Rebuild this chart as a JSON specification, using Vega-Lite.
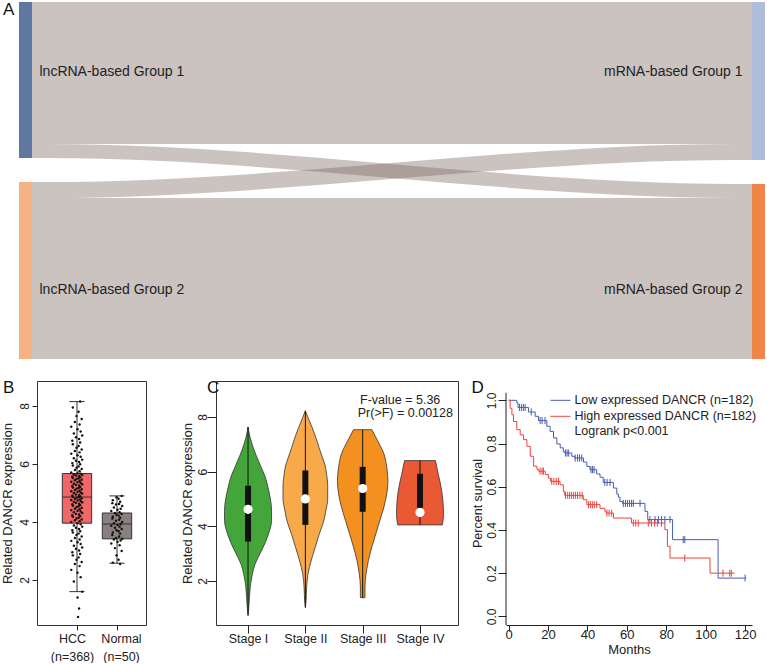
{
"$schema":"https://vega.github.io/schema/vega-lite/v6.json",
"padding":0,
"background":"white",
"config":{"font":"Liberation Sans","view":{"stroke":null},
"axis":{"grid":false,"labelColor":"#222","titleColor":"#222","tickColor":"#222","domainColor":"#222","titleFontWeight":"normal","labelFont":"Liberation Sans","titleFont":"Liberation Sans","tickWidth":1,"domainWidth":1},
"text":{"font":"Liberation Sans"}},
"datasets":{
"flows":[
{"flow":"11","stage":0,"top":0,"bot":142},{"flow":"11","stage":1,"top":0,"bot":142},
{"flow":"22","stage":0,"top":196,"bot":357},{"flow":"22","stage":1,"top":196,"bot":357},
{"flow":"12","stage":0,"top":142,"bot":156},{"flow":"12","stage":0.03,"top":142,"bot":156},{"flow":"12","stage":0.97,"top":182,"bot":196},{"flow":"12","stage":1,"top":182,"bot":196},
{"flow":"21","stage":0,"top":180,"bot":196},{"flow":"21","stage":0.03,"top":180,"bot":196},{"flow":"21","stage":0.97,"top":142,"bot":158},{"flow":"21","stage":1,"top":142,"bot":158}],
"nodes":[
{"node":"L1","stage":0,"top":0,"bot":156},{"node":"L2","stage":0,"top":180,"bot":357},
{"node":"R1","stage":1,"top":0,"bot":158},{"node":"R2","stage":1,"top":182,"bot":357}],
"nodelabels":[
{"label":"lncRNA-based Group 1","stage":0,"top":70},{"label":"lncRNA-based Group 2","stage":0,"top":288},
{"label":"mRNA-based Group 1","stage":1,"top":70},{"label":"mRNA-based Group 2","stage":1,"top":288}],
"bstats":[
{"g":"HCC","lo":1.6,"q1":3.96,"med":4.86,"q3":5.67,"hi":8.15},
{"g":"Normal","lo":2.58,"q1":3.42,"med":3.93,"q3":4.31,"hi":4.9}],
"bpts":[
{"g":"HCC","v":0.73,"j":0.2},{"g":"HCC","v":1.02,"j":0.4},{"g":"HCC","v":1.4,"j":0.1},{"g":"HCC","v":1.6,"j":1.0},{"g":"HCC","v":1.95,"j":-0.6},{"g":"HCC","v":2.1,"j":0.7},{"g":"HCC","v":2.25,"j":0.1},{"g":"HCC","v":2.35,"j":-1.1},{"g":"HCC","v":2.48,"j":0.5},{"g":"HCC","v":2.55,"j":-0.4},
{"g":"HCC","v":2.62,"j":0.9},{"g":"HCC","v":2.7,"j":-0.1},{"g":"HCC","v":2.78,"j":0.3},{"g":"HCC","v":2.85,"j":-0.8},{"g":"HCC","v":2.9,"j":0.6},{"g":"HCC","v":2.96,"j":-0.9},{"g":"HCC","v":3.02,"j":0.4},{"g":"HCC","v":3.08,"j":-0.2},{"g":"HCC","v":3.12,"j":1.0},{"g":"HCC","v":3.18,"j":-0.6},
{"g":"HCC","v":3.24,"j":0.7},{"g":"HCC","v":3.3,"j":0.1},{"g":"HCC","v":3.35,"j":-1.1},{"g":"HCC","v":3.4,"j":0.5},{"g":"HCC","v":3.45,"j":-0.4},{"g":"HCC","v":3.5,"j":0.9},{"g":"HCC","v":3.55,"j":-0.1},{"g":"HCC","v":3.6,"j":0.3},{"g":"HCC","v":3.64,"j":-0.8},{"g":"HCC","v":3.68,"j":0.6},
{"g":"HCC","v":3.72,"j":-0.9},{"g":"HCC","v":3.76,"j":0.4},{"g":"HCC","v":3.8,"j":-0.2},{"g":"HCC","v":3.84,"j":1.0},{"g":"HCC","v":3.88,"j":-0.6},{"g":"HCC","v":3.92,"j":0.7},{"g":"HCC","v":3.96,"j":0.1},
{"g":"HCC","v":4.0,"j":-1.1},{"g":"HCC","v":4.03,"j":0.5},{"g":"HCC","v":4.06,"j":-0.4},{"g":"HCC","v":4.09,"j":0.9},{"g":"HCC","v":4.12,"j":-0.1},{"g":"HCC","v":4.15,"j":0.3},{"g":"HCC","v":4.18,"j":-0.8},{"g":"HCC","v":4.2,"j":0.6},{"g":"HCC","v":4.23,"j":-0.9},{"g":"HCC","v":4.26,"j":0.4},
{"g":"HCC","v":4.28,"j":-0.2},{"g":"HCC","v":4.31,"j":1.0},{"g":"HCC","v":4.34,"j":-0.6},{"g":"HCC","v":4.36,"j":0.7},{"g":"HCC","v":4.39,"j":0.1},{"g":"HCC","v":4.41,"j":-1.1},{"g":"HCC","v":4.44,"j":0.5},{"g":"HCC","v":4.46,"j":-0.4},{"g":"HCC","v":4.49,"j":0.9},{"g":"HCC","v":4.51,"j":-0.1},
{"g":"HCC","v":4.54,"j":0.3},{"g":"HCC","v":4.56,"j":-0.8},{"g":"HCC","v":4.59,"j":0.6},{"g":"HCC","v":4.61,"j":-0.9},{"g":"HCC","v":4.63,"j":0.4},{"g":"HCC","v":4.66,"j":-0.2},{"g":"HCC","v":4.68,"j":1.0},{"g":"HCC","v":4.7,"j":-0.6},{"g":"HCC","v":4.72,"j":0.7},{"g":"HCC","v":4.74,"j":0.1},
{"g":"HCC","v":4.76,"j":-1.1},{"g":"HCC","v":4.78,"j":0.5},{"g":"HCC","v":4.8,"j":-0.4},{"g":"HCC","v":4.82,"j":0.9},{"g":"HCC","v":4.84,"j":-0.1},{"g":"HCC","v":4.86,"j":0.3},{"g":"HCC","v":4.87,"j":-0.8},{"g":"HCC","v":4.89,"j":0.6},
{"g":"HCC","v":4.91,"j":-0.9},{"g":"HCC","v":4.93,"j":0.4},{"g":"HCC","v":4.95,"j":-0.2},{"g":"HCC","v":4.98,"j":1.0},{"g":"HCC","v":5.0,"j":-0.6},{"g":"HCC","v":5.02,"j":0.7},{"g":"HCC","v":5.04,"j":0.1},{"g":"HCC","v":5.06,"j":-1.1},{"g":"HCC","v":5.08,"j":0.5},{"g":"HCC","v":5.1,"j":-0.4},
{"g":"HCC","v":5.13,"j":0.9},{"g":"HCC","v":5.15,"j":-0.1},{"g":"HCC","v":5.17,"j":0.3},{"g":"HCC","v":5.19,"j":-0.8},{"g":"HCC","v":5.21,"j":0.6},{"g":"HCC","v":5.24,"j":-0.9},{"g":"HCC","v":5.26,"j":0.4},{"g":"HCC","v":5.28,"j":-0.2},{"g":"HCC","v":5.3,"j":1.0},{"g":"HCC","v":5.32,"j":-0.6},
{"g":"HCC","v":5.35,"j":0.7},{"g":"HCC","v":5.37,"j":0.1},{"g":"HCC","v":5.39,"j":-1.1},{"g":"HCC","v":5.41,"j":0.5},{"g":"HCC","v":5.44,"j":-0.4},{"g":"HCC","v":5.46,"j":0.9},{"g":"HCC","v":5.48,"j":-0.1},{"g":"HCC","v":5.5,"j":0.3},{"g":"HCC","v":5.52,"j":-0.8},{"g":"HCC","v":5.54,"j":0.6},
{"g":"HCC","v":5.56,"j":-0.9},{"g":"HCC","v":5.58,"j":0.4},{"g":"HCC","v":5.6,"j":-0.2},{"g":"HCC","v":5.62,"j":1.0},{"g":"HCC","v":5.64,"j":-0.6},{"g":"HCC","v":5.66,"j":0.7},{"g":"HCC","v":5.68,"j":0.1},
{"g":"HCC","v":5.71,"j":-1.1},{"g":"HCC","v":5.75,"j":0.5},{"g":"HCC","v":5.79,"j":-0.4},{"g":"HCC","v":5.83,"j":0.9},{"g":"HCC","v":5.87,"j":-0.1},{"g":"HCC","v":5.91,"j":0.3},{"g":"HCC","v":5.95,"j":-0.8},{"g":"HCC","v":5.99,"j":0.6},{"g":"HCC","v":6.03,"j":-0.9},{"g":"HCC","v":6.07,"j":0.4},
{"g":"HCC","v":6.11,"j":-0.2},{"g":"HCC","v":6.15,"j":1.0},{"g":"HCC","v":6.2,"j":-0.6},{"g":"HCC","v":6.25,"j":0.7},{"g":"HCC","v":6.3,"j":0.1},{"g":"HCC","v":6.35,"j":-1.1},{"g":"HCC","v":6.4,"j":0.5},{"g":"HCC","v":6.45,"j":-0.4},{"g":"HCC","v":6.5,"j":0.9},{"g":"HCC","v":6.56,"j":-0.1},
{"g":"HCC","v":6.62,"j":0.3},{"g":"HCC","v":6.68,"j":-0.8},{"g":"HCC","v":6.74,"j":0.6},{"g":"HCC","v":6.8,"j":-0.9},{"g":"HCC","v":6.86,"j":0.4},{"g":"HCC","v":6.92,"j":-0.2},{"g":"HCC","v":6.98,"j":1.0},{"g":"HCC","v":7.05,"j":-0.6},{"g":"HCC","v":7.12,"j":0.7},{"g":"HCC","v":7.2,"j":0.1},
{"g":"HCC","v":7.28,"j":-1.1},{"g":"HCC","v":7.36,"j":0.5},{"g":"HCC","v":7.45,"j":-0.4},{"g":"HCC","v":7.55,"j":0.9},{"g":"HCC","v":7.65,"j":-0.1},{"g":"HCC","v":7.8,"j":0.3},{"g":"HCC","v":7.95,"j":-0.8},{"g":"HCC","v":8.15,"j":0.6},
{"g":"Normal","v":2.55,"j":0.6},{"g":"Normal","v":2.6,"j":-0.8},{"g":"Normal","v":2.7,"j":0.3},{"g":"Normal","v":2.85,"j":-0.1},{"g":"Normal","v":3.0,"j":0.9},{"g":"Normal","v":3.1,"j":-0.4},{"g":"Normal","v":3.2,"j":0.5},{"g":"Normal","v":3.26,"j":-1.1},{"g":"Normal","v":3.32,"j":0.1},{"g":"Normal","v":3.36,"j":0.7},
{"g":"Normal","v":3.4,"j":-0.6},{"g":"Normal","v":3.42,"j":1.0},{"g":"Normal","v":3.45,"j":-0.2},{"g":"Normal","v":3.5,"j":0.4},{"g":"Normal","v":3.55,"j":-0.9},{"g":"Normal","v":3.6,"j":0.6},{"g":"Normal","v":3.64,"j":-0.8},{"g":"Normal","v":3.68,"j":0.3},{"g":"Normal","v":3.72,"j":-0.1},{"g":"Normal","v":3.76,"j":0.9},
{"g":"Normal","v":3.8,"j":-0.4},{"g":"Normal","v":3.84,"j":0.5},{"g":"Normal","v":3.87,"j":-1.1},{"g":"Normal","v":3.9,"j":0.1},{"g":"Normal","v":3.93,"j":0.7},{"g":"Normal","v":3.96,"j":-0.6},{"g":"Normal","v":4.0,"j":1.0},{"g":"Normal","v":4.04,"j":-0.2},{"g":"Normal","v":4.08,"j":0.4},{"g":"Normal","v":4.12,"j":-0.9},
{"g":"Normal","v":4.15,"j":0.6},{"g":"Normal","v":4.18,"j":-0.8},{"g":"Normal","v":4.22,"j":0.3},{"g":"Normal","v":4.25,"j":-0.1},{"g":"Normal","v":4.28,"j":0.9},{"g":"Normal","v":4.31,"j":-0.4},{"g":"Normal","v":4.34,"j":0.5},{"g":"Normal","v":4.38,"j":-1.1},{"g":"Normal","v":4.42,"j":0.1},{"g":"Normal","v":4.46,"j":0.7},
{"g":"Normal","v":4.5,"j":-0.6},{"g":"Normal","v":4.55,"j":1.0},{"g":"Normal","v":4.6,"j":-0.2},{"g":"Normal","v":4.62,"j":0.4},{"g":"Normal","v":4.65,"j":-0.9},{"g":"Normal","v":4.7,"j":0.6},{"g":"Normal","v":4.75,"j":-0.8},{"g":"Normal","v":4.8,"j":0.3},{"g":"Normal","v":4.85,"j":-0.1},{"g":"Normal","v":4.9,"j":0.9}],
"violin":[
{"st":"I","s":1,"v":7.63,"w":0},{"st":"I","s":1,"v":7.3,"w":0.03},{"st":"I","s":1,"v":7.0,"w":0.07},{"st":"I","s":1,"v":6.6,"w":0.14},{"st":"I","s":1,"v":6.2,"w":0.22},{"st":"I","s":1,"v":5.8,"w":0.3},{"st":"I","s":1,"v":5.4,"w":0.35},{"st":"I","s":1,"v":5.0,"w":0.39},{"st":"I","s":1,"v":4.6,"w":0.41},{"st":"I","s":1,"v":4.2,"w":0.41},{"st":"I","s":1,"v":3.8,"w":0.37},{"st":"I","s":1,"v":3.4,"w":0.3},{"st":"I","s":1,"v":3.0,"w":0.21},{"st":"I","s":1,"v":2.6,"w":0.12},{"st":"I","s":1,"v":2.2,"w":0.07},{"st":"I","s":1,"v":1.8,"w":0.04},{"st":"I","s":1,"v":1.4,"w":0.025},{"st":"I","s":1,"v":1.0,"w":0.012},{"st":"I","s":1,"v":0.74,"w":0},
{"st":"II","s":2,"v":8.22,"w":0},{"st":"II","s":2,"v":7.9,"w":0.06},{"st":"II","s":2,"v":7.6,"w":0.12},{"st":"II","s":2,"v":7.2,"w":0.19},{"st":"II","s":2,"v":6.87,"w":0.24},{"st":"II","s":2,"v":6.5,"w":0.3},{"st":"II","s":2,"v":6.26,"w":0.34},{"st":"II","s":2,"v":5.9,"w":0.37},{"st":"II","s":2,"v":5.5,"w":0.39},{"st":"II","s":2,"v":5.0,"w":0.39},{"st":"II","s":2,"v":4.6,"w":0.36},{"st":"II","s":2,"v":4.19,"w":0.32},{"st":"II","s":2,"v":3.7,"w":0.24},{"st":"II","s":2,"v":3.22,"w":0.17},{"st":"II","s":2,"v":2.73,"w":0.1},{"st":"II","s":2,"v":2.25,"w":0.045},{"st":"II","s":2,"v":1.76,"w":0.022},{"st":"II","s":2,"v":1.27,"w":0.012},{"st":"II","s":2,"v":1.03,"w":0},
{"st":"III","s":3,"v":7.53,"w":0.16},{"st":"III","s":3,"v":7.13,"w":0.26},{"st":"III","s":3,"v":6.65,"w":0.37},{"st":"III","s":3,"v":6.16,"w":0.42},{"st":"III","s":3,"v":5.67,"w":0.44},{"st":"III","s":3,"v":5.18,"w":0.42},{"st":"III","s":3,"v":4.7,"w":0.37},{"st":"III","s":3,"v":4.21,"w":0.3},{"st":"III","s":3,"v":3.73,"w":0.23},{"st":"III","s":3,"v":3.24,"w":0.16},{"st":"III","s":3,"v":2.75,"w":0.1},{"st":"III","s":3,"v":2.27,"w":0.06},{"st":"III","s":3,"v":1.78,"w":0.04},{"st":"III","s":3,"v":1.39,"w":0.04},
{"st":"IV","s":4,"v":6.4,"w":0.27},{"st":"IV","s":4,"v":5.89,"w":0.32},{"st":"IV","s":4,"v":5.41,"w":0.37},{"st":"IV","s":4,"v":4.92,"w":0.4},{"st":"IV","s":4,"v":4.43,"w":0.41},{"st":"IV","s":4,"v":4.05,"w":0.39}],
"vstats":[
{"s":1,"mn":0.74,"q1":3.44,"med":4.62,"q3":5.48,"mx":7.63},
{"s":2,"mn":1.03,"q1":4.05,"med":5.0,"q3":6.04,"mx":8.22},
{"s":3,"mn":1.39,"q1":4.53,"med":5.38,"q3":6.17,"mx":7.53},
{"s":4,"mn":4.05,"q1":4.68,"med":4.5,"q3":5.92,"mx":6.4}],
"km":[
{"g":"Low","t":0,"s":1.0},{"g":"Low","t":4.2,"s":0.988},{"g":"Low","t":4.8,"s":0.967},{"g":"Low","t":10.1,"s":0.946},{"g":"Low","t":13.5,"s":0.926},{"g":"Low","t":15.2,"s":0.906},{"g":"Low","t":19.4,"s":0.88},{"g":"Low","t":21.1,"s":0.856},{"g":"Low","t":22.8,"s":0.826},{"g":"Low","t":24.5,"s":0.798},{"g":"Low","t":26.2,"s":0.78},{"g":"Low","t":27.8,"s":0.761},{"g":"Low","t":28.5,"s":0.756},{"g":"Low","t":32.1,"s":0.741},{"g":"Low","t":33.5,"s":0.733},{"g":"Low","t":38,"s":0.714},{"g":"Low","t":39.7,"s":0.694},{"g":"Low","t":41.3,"s":0.679},{"g":"Low","t":44.7,"s":0.659},{"g":"Low","t":46.4,"s":0.644},{"g":"Low","t":48,"s":0.62},{"g":"Low","t":53.2,"s":0.594},{"g":"Low","t":54.9,"s":0.566},{"g":"Low","t":55.7,"s":0.552},{"g":"Low","t":56.5,"s":0.532},{"g":"Low","t":57.8,"s":0.523},{"g":"Low","t":69.2,"s":0.486},{"g":"Low","t":70.6,"s":0.448},{"g":"Low","t":83.2,"s":0.355},{"g":"Low","t":106.3,"s":0.177},{"g":"Low","t":120.6,"s":0.177},
{"g":"High","t":0,"s":1.0},{"g":"High","t":0.8,"s":0.963},{"g":"High","t":1.7,"s":0.933},{"g":"High","t":2.5,"s":0.902},{"g":"High","t":4.2,"s":0.864},{"g":"High","t":5.9,"s":0.84},{"g":"High","t":7.6,"s":0.818},{"g":"High","t":9.3,"s":0.787},{"g":"High","t":11,"s":0.741},{"g":"High","t":12.7,"s":0.695},{"g":"High","t":14.4,"s":0.68},{"g":"High","t":15.3,"s":0.672},{"g":"High","t":18.6,"s":0.656},{"g":"High","t":20.2,"s":0.64},{"g":"High","t":21.2,"s":0.625},{"g":"High","t":26.1,"s":0.609},{"g":"High","t":27.8,"s":0.578},{"g":"High","t":28.5,"s":0.56},{"g":"High","t":37.9,"s":0.54},{"g":"High","t":39.7,"s":0.517},{"g":"High","t":46.4,"s":0.5},{"g":"High","t":48.9,"s":0.486},{"g":"High","t":49.5,"s":0.478},{"g":"High","t":53.2,"s":0.455},{"g":"High","t":62.4,"s":0.432},{"g":"High","t":79.3,"s":0.401},{"g":"High","t":80.6,"s":0.324},{"g":"High","t":81.9,"s":0.27},{"g":"High","t":102.2,"s":0.2},{"g":"High","t":114.7,"s":0.2}],
"cens":[
{"g":"Low","t":5.5,"s":0.967},{"g":"Low","t":6.5,"s":0.967},{"g":"Low","t":7.5,"s":0.967},{"g":"Low","t":8.4,"s":0.967},{"g":"Low","t":11.5,"s":0.946},{"g":"Low","t":16,"s":0.906},{"g":"Low","t":17,"s":0.906},{"g":"Low","t":18.5,"s":0.906},{"g":"Low","t":28.9,"s":0.756},{"g":"Low","t":29.7,"s":0.756},{"g":"Low","t":30.5,"s":0.756},{"g":"Low","t":33.8,"s":0.733},{"g":"Low","t":35,"s":0.733},{"g":"Low","t":36,"s":0.733},{"g":"Low","t":37.1,"s":0.733},{"g":"Low","t":41.8,"s":0.679},{"g":"Low","t":42.6,"s":0.679},{"g":"Low","t":43.4,"s":0.679},{"g":"Low","t":48.8,"s":0.62},{"g":"Low","t":50,"s":0.62},{"g":"Low","t":51.5,"s":0.62},{"g":"Low","t":58.2,"s":0.523},{"g":"Low","t":59.3,"s":0.523},{"g":"Low","t":60.3,"s":0.523},{"g":"Low","t":61.4,"s":0.523},{"g":"Low","t":62.4,"s":0.523},{"g":"Low","t":63.3,"s":0.523},{"g":"Low","t":66.7,"s":0.523},{"g":"Low","t":71.7,"s":0.448},{"g":"Low","t":74.3,"s":0.448},{"g":"Low","t":76,"s":0.448},{"g":"Low","t":77.6,"s":0.448},{"g":"Low","t":79.3,"s":0.448},{"g":"Low","t":81.9,"s":0.448},{"g":"Low","t":88.6,"s":0.355},{"g":"Low","t":89.4,"s":0.355},{"g":"Low","t":120,"s":0.177},
{"g":"High","t":16,"s":0.672},{"g":"High","t":17,"s":0.672},{"g":"High","t":17.7,"s":0.672},{"g":"High","t":21.9,"s":0.625},{"g":"High","t":23,"s":0.625},{"g":"High","t":24.2,"s":0.625},{"g":"High","t":25.3,"s":0.625},{"g":"High","t":28.9,"s":0.56},{"g":"High","t":30,"s":0.56},{"g":"High","t":31,"s":0.56},{"g":"High","t":32,"s":0.56},{"g":"High","t":33,"s":0.56},{"g":"High","t":34,"s":0.56},{"g":"High","t":35,"s":0.56},{"g":"High","t":36.2,"s":0.56},{"g":"High","t":37.3,"s":0.56},{"g":"High","t":40.5,"s":0.517},{"g":"High","t":41.5,"s":0.517},{"g":"High","t":42.5,"s":0.517},{"g":"High","t":43.5,"s":0.517},{"g":"High","t":44.7,"s":0.517},{"g":"High","t":49.9,"s":0.478},{"g":"High","t":51,"s":0.478},{"g":"High","t":52.3,"s":0.478},{"g":"High","t":63.3,"s":0.432},{"g":"High","t":64.5,"s":0.432},{"g":"High","t":65.8,"s":0.432},{"g":"High","t":70.9,"s":0.432},{"g":"High","t":72.5,"s":0.432},{"g":"High","t":74,"s":0.432},{"g":"High","t":75.5,"s":0.432},{"g":"High","t":77.6,"s":0.432},{"g":"High","t":89.4,"s":0.27},{"g":"High","t":108.8,"s":0.2},{"g":"High","t":112.2,"s":0.2},{"g":"High","t":113,"s":0.2}]
},
"spacing":18,
"align":"none",
"resolve":{"scale":{"color":"independent","fill":"independent"}},
"vconcat":[
{"width":730,"height":360,
"layer":[
{"data":{"name":"flows"},"mark":{"type":"area","interpolate":"monotone","color":"#7d6a62","opacity":0.4},
"encoding":{"x":{"field":"stage","type":"quantitative","scale":{"domain":[0.01569,1.0116],"nice":false,"zero":false,"padding":0},"axis":null},
"y":{"field":"top","type":"quantitative","scale":{"domain":[-2,358],"reverse":true,"nice":false,"zero":false,"padding":0},"axis":null},
"y2":{"field":"bot"},"detail":{"field":"flow","type":"nominal"}}},
{"data":{"name":"nodes"},"mark":{"type":"bar","size":13},
"encoding":{"x":{"field":"stage","type":"quantitative"},"y":{"field":"top","type":"quantitative"},"y2":{"field":"bot"},
"color":{"field":"node","type":"nominal","scale":{"domain":["L1","L2","R1","R2"],"range":["#5E78A2","#F7B283","#AEBDDB","#F08548"]},"legend":null}}},
{"data":{"name":"nodelabels"},"transform":[{"filter":"datum.stage == 0"}],"mark":{"type":"text","align":"left","baseline":"middle","dx":14,"fontSize":14,"color":"#222"},
"encoding":{"x":{"field":"stage","type":"quantitative"},"y":{"field":"top","type":"quantitative"},"text":{"field":"label"}}},
{"data":{"name":"nodelabels"},"transform":[{"filter":"datum.stage == 1"}],"mark":{"type":"text","align":"right","baseline":"middle","dx":-16,"fontSize":14,"color":"#222"},
"encoding":{"x":{"field":"stage","type":"quantitative"},"y":{"field":"top","type":"quantitative"},"text":{"field":"label"}}},
{"data":{"values":[{"lab":"A"}]},"mark":{"type":"text","align":"left","baseline":"alphabetic","fontSize":17,"color":"#111"},"encoding":{"x":{"datum":-0.0307},"y":{"datum":13},"text":{"field":"lab"}}}
]},
{"spacing":12,"align":"none","resolve":{"scale":{"color":"independent","fill":"independent"}},"hconcat":[
{"spacing":33,"align":"none","resolve":{"scale":{"color":"independent","fill":"independent"}},"hconcat":[
{"width":109,"height":244,
"view":{"stroke":"#333","strokeWidth":1},
"layer":[
{"data":{"name":"bstats"},"transform":[{"calculate":"datum.g == 'HCC' ? 1 : 2","as":"pos"}],"mark":{"type":"rule","color":"#333"},
"encoding":{"x":{"field":"pos","type":"quantitative","scale":{"domain":[0,2.725],"nice":false,"zero":false,"padding":0},
"axis":{"values":[1,2],"title":null,"labelExpr":"datum.value == 1 ? ['HCC', '(n=368)'] : ['Normal', '(n=50)']","labelOffset":{"condition":{"test":"datum.value == 1","value":-5},"value":4},"tickSize":5,"labelPadding":2,"labelFontSize":12.5,"domain":false,"labelLineHeight":18,"labelFlush":false}},
"y":{"field":"lo","type":"quantitative","scale":{"domain":[0.45,8.86],"nice":false,"zero":false},
"axis":{"values":[2,4,6,8],"labelAngle":-90,"labelAlign":"center","labelBaseline":"bottom","tickSize":5,"labelPadding":1,"labelFontSize":12,"domain":false,"title":"Related DANCR expression","titleFontSize":13,"titlePadding":4}},"y2":{"field":"hi"}}},
{"data":{"name":"bstats"},"transform":[{"calculate":"datum.g == 'HCC' ? 1 : 2","as":"pos"},{"calculate":"datum.pos - 0.367","as":"xa"},{"calculate":"datum.pos + 0.367","as":"xb"}],
"mark":{"type":"rect","stroke":"#333","strokeWidth":1},"encoding":{"x":{"field":"xa","type":"quantitative"},"x2":{"field":"xb"},"y":{"field":"q1","type":"quantitative"},"y2":{"field":"q3"},"fill":{"field":"g","type":"nominal","scale":{"domain":["HCC","Normal"],"range":["#EF6767","#8B8080"]},"legend":null}}},
{"data":{"name":"bstats"},"transform":[{"calculate":"datum.g == 'HCC' ? 1 : 2","as":"pos"},{"calculate":"datum.pos - 0.367","as":"xa"},{"calculate":"datum.pos + 0.367","as":"xb"}],
"mark":{"type":"rule","color":"#333","strokeWidth":1},"encoding":{"x":{"field":"xa","type":"quantitative"},"x2":{"field":"xb"},"y":{"field":"med","type":"quantitative"}}},
{"data":{"name":"bstats"},"transform":[{"calculate":"datum.g == 'HCC' ? 1 : 2","as":"pos"},{"calculate":"datum.pos - 0.19","as":"xa"},{"calculate":"datum.pos + 0.19","as":"xb"}],
"mark":{"type":"rule","color":"#333","strokeWidth":1},"encoding":{"x":{"field":"xa","type":"quantitative"},"x2":{"field":"xb"},"y":{"field":"lo","type":"quantitative"}}},
{"data":{"name":"bstats"},"transform":[{"calculate":"datum.g == 'HCC' ? 1 : 2","as":"pos"},{"calculate":"datum.pos - 0.19","as":"xa"},{"calculate":"datum.pos + 0.19","as":"xb"}],
"mark":{"type":"rule","color":"#333","strokeWidth":1},"encoding":{"x":{"field":"xa","type":"quantitative"},"x2":{"field":"xb"},"y":{"field":"hi","type":"quantitative"}}},
{"data":{"name":"bpts"},"transform":[{"calculate":"(datum.g == 'HCC' ? 1 : 2) + datum.j * 0.13","as":"px"}],
"mark":{"type":"point","filled":true,"size":6,"color":"#111","opacity":1},"encoding":{"x":{"field":"px","type":"quantitative"},"y":{"field":"v","type":"quantitative"}}},
{"data":{"values":[{"lab":"B"}]},"mark":{"type":"text","align":"left","baseline":"alphabetic","fontSize":17,"color":"#111"},"encoding":{"x":{"datum":-0.85},"y":{"datum":8.45},"text":{"field":"lab"}}}
]},
{"width":242,"height":244,
"view":{"stroke":"#333","strokeWidth":1},
"layer":[
{"data":{"name":"violin"},"transform":[{"calculate":"datum.s - datum.w","as":"lo"},{"calculate":"datum.s + datum.w","as":"hi"}],
"mark":{"type":"area","orient":"horizontal","interpolate":"monotone","stroke":"#333","strokeWidth":0.8,"opacity":1},
"encoding":{"y":{"field":"v","type":"quantitative","scale":{"domain":[0.39,9.31],"nice":false,"zero":false},
"axis":{"values":[2,4,6,8],"labelAngle":-90,"labelAlign":"center","labelBaseline":"bottom","tickSize":9,"labelPadding":-2,"labelFontSize":12,"domain":false,"title":"Related DANCR expression","titleFontSize":13,"titlePadding":2}},
"x":{"field":"lo","type":"quantitative","scale":{"domain":[0.441,4.663],"nice":false,"zero":false},
"axis":{"values":[1,2,3,4],"labelExpr":"['Stage I','Stage II','Stage III','Stage IV'][datum.value - 1]","title":null,"tickSize":8,"labelPadding":-1,"labelFontSize":12.5,"domain":false}},
"x2":{"field":"hi"},
"fill":{"field":"st","type":"nominal","scale":{"domain":["I","II","III","IV"],"range":["#44A63A","#F8AA4A","#F3901F","#E95934"]},"legend":null}}},
{"data":{"name":"vstats"},"mark":{"type":"rule","color":"#111","strokeWidth":1},"encoding":{"x":{"field":"s","type":"quantitative"},"y":{"field":"mn","type":"quantitative"},"y2":{"field":"mx"}}},
{"data":{"name":"vstats"},"mark":{"type":"rule","color":"#111","strokeWidth":6,"strokeCap":"butt"},"encoding":{"x":{"field":"s","type":"quantitative"},"y":{"field":"q1","type":"quantitative"},"y2":{"field":"q3"}}},
{"data":{"name":"vstats"},"mark":{"type":"point","filled":true,"color":"white","size":85,"opacity":1},"encoding":{"x":{"field":"s","type":"quantitative"},"y":{"field":"med","type":"quantitative"}}},
{"data":{"values":[{"lab":"F-value = 5.36"}]},"mark":{"type":"text","align":"left","baseline":"middle","fontSize":12.5,"color":"#222"},"encoding":{"x":{"datum":2.954},"y":{"datum":8.62},"text":{"field":"lab"}}},
{"data":{"values":[{"lab":"Pr(>F) = 0.00128"}]},"mark":{"type":"text","align":"left","baseline":"middle","fontSize":12.5,"color":"#222"},"encoding":{"x":{"datum":2.914},"y":{"datum":8.15},"text":{"field":"lab"}}},
{"data":{"values":[{"lab":"C"}]},"mark":{"type":"text","align":"left","baseline":"alphabetic","fontSize":17,"color":"#111"},"encoding":{"x":{"datum":0.284},"y":{"datum":8.87},"text":{"field":"lab"}}}
]}
]},
{"width":246,"height":244,
"layer":[
{"data":{"name":"km"},"mark":{"type":"line","interpolate":"step-after","strokeWidth":1},
"encoding":{"x":{"field":"t","type":"quantitative","scale":{"domain":[-1.3,123.5],"nice":false,"zero":false},
"axis":{"values":[0,20,40,60,80,100,120],"tickSize":6,"labelPadding":-3,"labelFontSize":13,"title":"Months","titleFontSize":13,"titlePadding":2}},
"y":{"field":"s","type":"quantitative","scale":{"domain":[-0.04,1.0894],"nice":false,"zero":false},
"axis":{"values":[0,0.2,0.4,0.6,0.8,1.0],"format":".1f","labelAngle":-90,"labelAlign":"center","labelBaseline":"bottom","tickSize":8,"labelPadding":0,"labelFontSize":12,"domain":false,"title":"Percent survival","titleFontSize":12.5,"titlePadding":1}},
"color":{"field":"g","type":"nominal","scale":{"domain":["Low","High"],"range":["#4A5BB3","#F0413A"]},"legend":null}}},
{"data":{"name":"cens"},"mark":{"type":"point","shape":"M0,-1L0,1","filled":false,"size":50,"strokeWidth":1,"opacity":1},"encoding":{"x":{"field":"t","type":"quantitative"},"y":{"field":"s","type":"quantitative"},"color":{"field":"g","type":"nominal"}}},
{"data":{"values":[{}]},"mark":{"type":"rule","color":"#222","strokeWidth":1},"encoding":{"x":{"datum":-1.3},"y":{"datum":-0.04},"y2":{"datum":1.035}}},
{"data":{"values":[{}]},"mark":{"type":"rule","color":"#4A5BB3","strokeWidth":1},"encoding":{"x":{"datum":21.3},"x2":{"datum":31.4},"y":{"datum":1.0}}},
{"data":{"values":[{}]},"mark":{"type":"rule","color":"#F0413A","strokeWidth":1},"encoding":{"x":{"datum":21.3},"x2":{"datum":31.4},"y":{"datum":0.926}}},
{"data":{"values":[{"lab":"Low expressed DANCR (n=182)"}]},"mark":{"type":"text","align":"left","baseline":"middle","fontSize":12.5,"color":"#222"},"encoding":{"x":{"datum":33.4},"y":{"datum":1.0},"text":{"field":"lab"}}},
{"data":{"values":[{"lab":"High expressed DANCR (n=182)"}]},"mark":{"type":"text","align":"left","baseline":"middle","fontSize":12.5,"color":"#222"},"encoding":{"x":{"datum":33.4},"y":{"datum":0.926},"text":{"field":"lab"}}},
{"data":{"values":[{"lab":"Logrank p<0.001"}]},"mark":{"type":"text","align":"left","baseline":"middle","fontSize":12.5,"color":"#222"},"encoding":{"x":{"datum":33.4},"y":{"datum":0.856},"text":{"field":"lab"}}},
{"data":{"values":[{"lab":"D"}]},"mark":{"type":"text","align":"left","baseline":"alphabetic","fontSize":17,"color":"#111"},"encoding":{"x":{"datum":-18.8},"y":{"datum":1.034},"text":{"field":"lab"}}}
]}
]}
]
}
